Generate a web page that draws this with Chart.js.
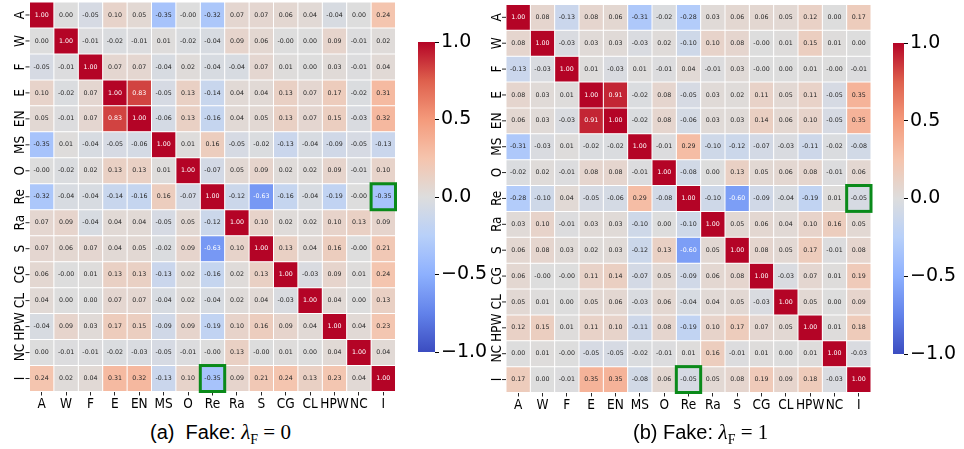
<!DOCTYPE html>
<html>
<head>
<meta charset="utf-8">
<script src="https://cdn.jsdelivr.net/npm/chart.js@4.4.1/dist/chart.umd.min.js"></script>
<style>
  body { margin: 0; background: #fff; width: 964px; height: 449px; position: relative; overflow: hidden; }
  .box { position: absolute; }
  .cap { position: absolute; top: 422px; font: 20px/20px "Liberation Sans", Arial, sans-serif; color: #000; white-space: nowrap; }
  .m { font-family: "Liberation Serif", "DejaVu Serif", serif; font-size: 21px; }
  .m sub { font-size: 14px; font-style: normal; }
</style>
</head>
<body>
<div class="box" style="left:0;top:0;width:400px;height:420px"><canvas id="heatA"></canvas></div>
<div class="box" style="left:400px;top:0;width:95px;height:400px"><canvas id="barA"></canvas></div>
<div class="box" style="left:480px;top:0;width:400px;height:420px"><canvas id="heatB"></canvas></div>
<div class="box" style="left:875px;top:0;width:89px;height:400px"><canvas id="barB"></canvas></div>
<div class="cap" style="left:150px">(a)&nbsp; Fake: <span class="m"><i>λ</i><sub>F</sub> = 0</span></div>
<div class="cap" style="left:633px">(b) Fake: <span class="m"><i>λ</i><sub>F</sub> = 1</span></div>
<script>
const labels = ['A', 'W', 'F', 'E', 'EN', 'MS', 'O', 'Re', 'Ra', 'S', 'CG', 'CL', 'HPW', 'NC', 'I'];

// (a) Fake: lambda_F = 0
const corrA = [
  [1.00, 0.00, -0.05, 0.10, 0.05, -0.35, -0, -0.32, 0.07, 0.07, 0.06, 0.04, -0.04, 0.00, 0.24],
  [0.00, 1.00, -0.01, -0.02, -0.01, 0.01, -0.02, -0.04, 0.09, 0.06, -0, 0.00, 0.09, -0.01, 0.02],
  [-0.05, -0.01, 1.00, 0.07, 0.07, -0.04, 0.02, -0.04, -0.04, 0.07, 0.01, 0.00, 0.03, -0.01, 0.04],
  [0.10, -0.02, 0.07, 1.00, 0.83, -0.05, 0.13, -0.14, 0.04, 0.04, 0.13, 0.07, 0.17, -0.02, 0.31],
  [0.05, -0.01, 0.07, 0.83, 1.00, -0.06, 0.13, -0.16, 0.04, 0.05, 0.13, 0.07, 0.15, -0.03, 0.32],
  [-0.35, 0.01, -0.04, -0.05, -0.06, 1.00, 0.01, 0.16, -0.05, -0.02, -0.13, -0.04, -0.09, -0.05, -0.13],
  [-0, -0.02, 0.02, 0.13, 0.13, 0.01, 1.00, -0.07, 0.05, 0.09, 0.02, 0.02, 0.09, -0.01, 0.10],
  [-0.32, -0.04, -0.04, -0.14, -0.16, 0.16, -0.07, 1.00, -0.12, -0.63, -0.16, -0.04, -0.19, -0, -0.35],
  [0.07, 0.09, -0.04, 0.04, 0.04, -0.05, 0.05, -0.12, 1.00, 0.10, 0.02, 0.02, 0.10, 0.13, 0.09],
  [0.07, 0.06, 0.07, 0.04, 0.05, -0.02, 0.09, -0.63, 0.10, 1.00, 0.13, 0.04, 0.16, -0, 0.21],
  [0.06, -0, 0.01, 0.13, 0.13, -0.13, 0.02, -0.16, 0.02, 0.13, 1.00, -0.03, 0.09, 0.01, 0.24],
  [0.04, 0.00, 0.00, 0.07, 0.07, -0.04, 0.02, -0.04, 0.02, 0.04, -0.03, 1.00, 0.04, 0.00, 0.13],
  [-0.04, 0.09, 0.03, 0.17, 0.15, -0.09, 0.09, -0.19, 0.10, 0.16, 0.09, 0.04, 1.00, 0.04, 0.23],
  [0.00, -0.01, -0.01, -0.02, -0.03, -0.05, -0.01, -0, 0.13, -0, 0.01, 0.00, 0.04, 1.00, 0.04],
  [0.24, 0.02, 0.04, 0.31, 0.32, -0.13, 0.10, -0.35, 0.09, 0.21, 0.24, 0.13, 0.23, 0.04, 1.00]
];

// (b) Fake: lambda_F = 1
const corrB = [
  [1.00, 0.08, -0.13, 0.08, 0.06, -0.31, -0.02, -0.28, 0.03, 0.06, 0.06, 0.05, 0.12, 0.00, 0.17],
  [0.08, 1.00, -0.03, 0.03, 0.03, -0.03, 0.02, -0.10, 0.10, 0.08, -0, 0.01, 0.15, 0.01, 0.00],
  [-0.13, -0.03, 1.00, 0.01, -0.03, 0.01, -0.01, 0.04, -0.01, 0.03, -0, 0.00, 0.01, -0, -0.01],
  [0.08, 0.03, 0.01, 1.00, 0.91, -0.02, 0.08, -0.05, 0.03, 0.02, 0.11, 0.05, 0.11, -0.05, 0.35],
  [0.06, 0.03, -0.03, 0.91, 1.00, -0.02, 0.08, -0.06, 0.03, 0.03, 0.14, 0.06, 0.10, -0.05, 0.35],
  [-0.31, -0.03, 0.01, -0.02, -0.02, 1.00, -0.01, 0.29, -0.10, -0.12, -0.07, -0.03, -0.11, -0.02, -0.08],
  [-0.02, 0.02, -0.01, 0.08, 0.08, -0.01, 1.00, -0.08, 0.00, 0.13, 0.05, 0.06, 0.08, -0.01, 0.06],
  [-0.28, -0.10, 0.04, -0.05, -0.06, 0.29, -0.08, 1.00, -0.10, -0.60, -0.09, -0.04, -0.19, 0.01, -0.05],
  [0.03, 0.10, -0.01, 0.03, 0.03, -0.10, 0.00, -0.10, 1.00, 0.05, 0.06, 0.04, 0.10, 0.16, 0.05],
  [0.06, 0.08, 0.03, 0.02, 0.03, -0.12, 0.13, -0.60, 0.05, 1.00, 0.08, 0.05, 0.17, -0.01, 0.08],
  [0.06, -0, -0, 0.11, 0.14, -0.07, 0.05, -0.09, 0.06, 0.08, 1.00, -0.03, 0.07, 0.01, 0.19],
  [0.05, 0.01, 0.00, 0.05, 0.06, -0.03, 0.06, -0.04, 0.04, 0.05, -0.03, 1.00, 0.05, 0.00, 0.09],
  [0.12, 0.15, 0.01, 0.11, 0.10, -0.11, 0.08, -0.19, 0.10, 0.17, 0.07, 0.05, 1.00, 0.01, 0.18],
  [0.00, 0.01, -0, -0.05, -0.05, -0.02, -0.01, 0.01, 0.16, -0.01, 0.01, 0.00, 0.01, 1.00, -0.03],
  [0.17, 0.00, -0.01, 0.35, 0.35, -0.08, 0.06, -0.05, 0.05, 0.08, 0.19, 0.09, 0.18, -0.03, 1.00]
];

// cells outlined in green: [row, col]
const highlightCells = [[7, 14], [14, 7]];
const cbarTicks = [-1, -0.5, 0, 0.5, 1];

Chart.defaults.font.family = '"DejaVu Sans", sans-serif';
Chart.defaults.color = '#000';
const labelFont = '"DejaVu Sans Condensed", "DejaVu Sans", sans-serif';

// matplotlib "coolwarm", sampled
const coolwarmStops = [
  [59, 76, 192], [98, 130, 234], [141, 176, 254], [184, 208, 249], [221, 221, 221],
  [245, 196, 173], [244, 154, 123], [222, 96, 77], [180, 4, 38]
];
function coolwarm(v) {
  let t = Math.min(1, Math.max(0, (v + 1) / 2)) * (coolwarmStops.length - 1);
  const i = Math.min(coolwarmStops.length - 2, Math.floor(t));
  const f = t - i;
  const a = coolwarmStops[i], b = coolwarmStops[i + 1];
  return a.map((x, k) => Math.round(x + (b[k] - x) * f));
}
const rgb = c => `rgb(${c[0]},${c[1]},${c[2]})`;

function textColor(v) {
  const lin = coolwarm(v).map(x => {
    x /= 255;
    return x <= 0.03928 ? x / 12.92 : Math.pow((x + 0.055) / 1.055, 2.4);
  });
  const lum = 0.2126 * lin[0] + 0.7152 * lin[1] + 0.0722 * lin[2];
  return lum > 0.408 ? '#262626' : '#fff';
}

function fmt(v) {
  const neg = v < 0 || Object.is(v, -0);
  return (neg ? '-' : '') + Math.abs(v).toFixed(2);
}

const cellPlugin = {
  id: 'cells',
  afterDatasetsDraw(chart) {
    const ctx = chart.ctx;
    const area = chart.chartArea;
    const yScale = chart.scales.y;
    ctx.save();

    ctx.font = '6.3px "DejaVu Sans"';
    ctx.textAlign = 'center';
    ctx.textBaseline = 'middle';
    chart.data.datasets.forEach((ds, r) => {
      chart.getDatasetMeta(r).data.forEach((bar, c) => {
        const v = ds.values[c];
        ctx.fillStyle = textColor(v);
        ctx.fillText(fmt(v), bar.x, (bar.y + bar.base) / 2);
      });
    });

    ctx.strokeStyle = '#262626';
    ctx.lineWidth = 1;
    ctx.fillStyle = '#000';
    ctx.font = '13.5px ' + labelFont;
    ctx.textBaseline = 'alphabetic';
    labels.forEach((lab, r) => {
      const y = yScale.getPixelForValue(r + 0.5);
      ctx.beginPath();
      ctx.moveTo(area.left - 4, y);
      ctx.lineTo(area.left, y);
      ctx.stroke();
      ctx.save();
      ctx.translate(area.left - 5.5, y);
      ctx.rotate(-Math.PI / 2);
      ctx.fillText(lab, 0, 0);
      ctx.restore();
    });

    ctx.strokeStyle = '#0a8a1a';
    ctx.lineWidth = 3;
    highlightCells.forEach(([r, c]) => {
      const bar = chart.getDatasetMeta(r).data[c];
      const top = Math.min(bar.y, bar.base);
      ctx.strokeRect(bar.x - bar.width / 2, top, bar.width, Math.abs(bar.base - bar.y));
    });
    ctx.restore();
  }
};

function heatmap(id, corr, pad) {
  return new Chart(document.getElementById(id), {
    type: 'bar',
    data: {
      labels: labels,
      datasets: corr.map((row, r) => ({
        data: row.map(() => [r, r + 1]),
        values: row,
        backgroundColor: row.map(v => rgb(coolwarm(v))),
        borderColor: '#fff',
        borderWidth: 0.5,
        borderSkipped: false,
        inflateAmount: 0,
        grouped: false,
        barPercentage: 1,
        categoryPercentage: 1
      }))
    },
    options: {
      responsive: true,
      maintainAspectRatio: false,
      animation: false,
      layout: { padding: pad },
      plugins: { legend: { display: false }, tooltip: { enabled: false } },
      scales: {
        x: {
          ticks: { font: { size: 13.5, family: labelFont }, color: '#000', padding: 1, maxRotation: 0, autoSkip: false },
          grid: { offset: false, drawOnChartArea: false, tickLength: 4, color: '#262626' },
          border: { display: false },
          afterFit: s => { s.height = 24; }
        },
        y: { display: false, min: 0, max: labels.length, reverse: true }
      }
    },
    plugins: [cellPlugin]
  });
}

function colorbar(id, pad) {
  return new Chart(document.getElementById(id), {
    type: 'bar',
    data: {
      labels: [''],
      datasets: [{
        data: [[cbarTicks[0], cbarTicks[cbarTicks.length - 1]]],
        backgroundColor: c => {
          const a = c.chart.chartArea;
          if (!a) return '#ddd';
          const g = c.chart.ctx.createLinearGradient(0, a.bottom, 0, a.top);
          for (let i = 0; i <= 32; i++) g.addColorStop(i / 32, rgb(coolwarm(i / 16 - 1)));
          return g;
        },
        borderWidth: 0,
        barPercentage: 1,
        categoryPercentage: 1
      }]
    },
    options: {
      responsive: true,
      maintainAspectRatio: false,
      animation: false,
      layout: { padding: pad },
      plugins: { legend: { display: false }, tooltip: { enabled: false } },
      scales: {
        x: { display: false },
        y: {
          position: 'right',
          min: -1,
          max: 1,
          afterBuildTicks: s => { s.ticks = cbarTicks.map(v => ({ value: v })); },
          ticks: {
            font: { size: 19 },
            color: '#000',
            padding: 2,
            callback: v => (v < 0 ? '\u2212' : '') + Math.abs(v).toFixed(1)
          },
          grid: { drawOnChartArea: false, tickLength: 4, color: '#000' },
          border: { display: false },
          afterFit: s => { s.width = 60; }
        }
      }
    }
  });
}

heatmap('heatA', corrA, { left: 29.5, right: 4.5, top: 2, bottom: 4.5 });
heatmap('heatB', corrB, { left: 26, right: 9, top: 4.4, bottom: 3.5 });
colorbar('barA', { left: 18, right: 0, top: 42, bottom: 48 });
colorbar('barB', { left: 18, right: 0, top: 43, bottom: 46 });
</script>
</body>
</html>
